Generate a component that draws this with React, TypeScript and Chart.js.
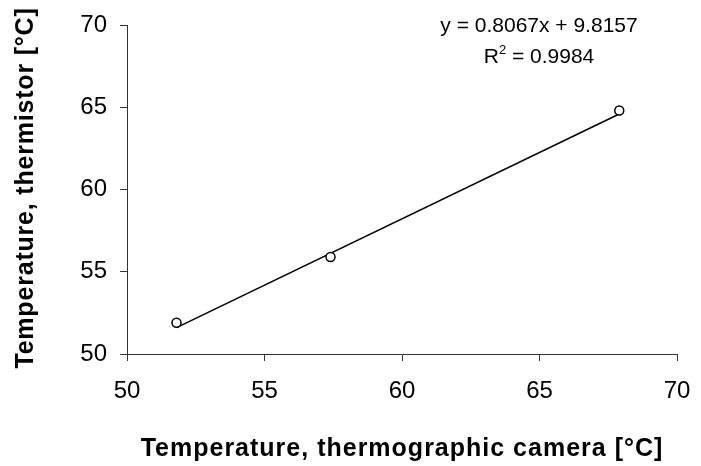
import { useEffect, useRef } from "react";
import { Chart, registerables } from "chart.js";

Chart.register(...registerables);

// Measured temperatures (°C)
const cameraTemps = [51.8, 57.4, 67.9];
const thermistorTemps = [51.9, 55.9, 64.8];

// Linear fit of thermistor vs. camera readings
const slope = 0.8067;
const intercept = 9.8157;
const rSquared = 0.9984;

const axisMin = 50;
const axisMax = 70;
const axisStep = 5;

const xTitle = "Temperature, thermographic camera [°C]";
const yTitle = "Temperature, thermistor [°C]";

const FONT = '"Liberation Sans", Arial, Helvetica, sans-serif';

const textPlugin = {
  id: "chartText",
  afterDraw(chart: any) {
    const ctx: any = chart.ctx;
    const area = chart.chartArea;
    ctx.save();
    ctx.fillStyle = "#000";

    // axis titles
    ctx.font = `bold 25px ${FONT}`;
    ctx.letterSpacing = "1px";
    ctx.textAlign = "center";
    ctx.textBaseline = "alphabetic";
    ctx.fillText(xTitle, (area.left + area.right) / 2, 456);

    ctx.save();
    ctx.translate(33, 188);
    ctx.rotate(-Math.PI / 2);
    ctx.letterSpacing = "0.8px";
    ctx.fillText(yTitle, 0, 0);
    ctx.restore();
    ctx.letterSpacing = "0px";

    // fit equation and R²
    const cx = 539;
    ctx.font = `21px ${FONT}`;
    ctx.textBaseline = "alphabetic";
    ctx.textAlign = "center";
    const eq = `y = ${slope.toFixed(4)}x + ${intercept.toFixed(4)}`;
    ctx.fillText(eq, cx, 32);

    const rest = ` = ${rSquared.toFixed(4)}`;
    ctx.font = `21px ${FONT}`;
    const wR = ctx.measureText("R").width;
    const wRest = ctx.measureText(rest).width;
    ctx.font = `13px ${FONT}`;
    const w2 = ctx.measureText("2").width;
    let x = cx - (wR + w2 + wRest) / 2;
    ctx.textAlign = "left";
    ctx.font = `21px ${FONT}`;
    ctx.fillText("R", x, 63);
    x += wR;
    ctx.font = `13px ${FONT}`;
    ctx.fillText("2", x, 54);
    x += w2;
    ctx.font = `21px ${FONT}`;
    ctx.fillText(rest, x, 63);

    ctx.restore();
  },
};

export default function App() {
  const canvasRef = useRef<HTMLCanvasElement | null>(null);

  useEffect(() => {
    if (!canvasRef.current) return;
    const xLo = Math.min(...cameraTemps);
    const xHi = Math.max(...cameraTemps);
    const trend = [
      { x: xLo, y: slope * xLo + intercept },
      { x: xHi, y: slope * xHi + intercept },
    ];
    const points = cameraTemps.map((x, i) => ({ x, y: thermistorTemps[i] }));

    const tickFont = { family: FONT, size: 24 };
    const axisColor = "#333";

    const chart = new Chart(canvasRef.current, {
      type: "scatter",
      data: {
        datasets: [
          {
            label: "Measurements",
            data: points,
            pointRadius: 4.5,
            pointBorderWidth: 1.5,
            pointBorderColor: "#000",
            pointBackgroundColor: "#fff",
            showLine: false,
          },
          {
            label: "Linear fit",
            data: trend,
            showLine: true,
            borderColor: "#000",
            borderWidth: 1.5,
            pointRadius: 0,
            fill: false,
          },
        ],
      },
      options: {
        responsive: false,
        animation: false,
        devicePixelRatio: 1,
        layout: { padding: { top: 25, right: 24, left: 0, bottom: 0 } },
        plugins: {
          legend: { display: false },
          tooltip: { enabled: false },
          title: { display: false },
        },
        scales: {
          x: {
            type: "linear",
            min: axisMin,
            max: axisMax,
            ticks: {
              stepSize: axisStep,
              color: "#000",
              font: tickFont,
              padding: 16,
              maxRotation: 0,
            },
            grid: {
              drawOnChartArea: false,
              drawTicks: true,
              tickLength: 7,
              color: axisColor,
              lineWidth: 1,
            },
            border: { display: true, color: axisColor, width: 1 },
            afterFit(scale: any) {
              scale.height = 112;
              scale.paddingLeft = 0;
              scale.paddingRight = 0;
            },
          },
          y: {
            type: "linear",
            min: axisMin,
            max: axisMax,
            ticks: {
              stepSize: axisStep,
              color: "#000",
              font: tickFont,
              padding: 13,
            },
            grid: {
              drawOnChartArea: false,
              drawTicks: true,
              tickLength: 7,
              color: axisColor,
              lineWidth: 1,
            },
            border: { display: true, color: axisColor, width: 1 },
            afterFit(scale: any) {
              scale.width = 127;
              scale.paddingTop = 0;
              scale.paddingBottom = 0;
            },
          },
        },
      },
      plugins: [textPlugin],
    } as any);

    return () => chart.destroy();
  }, []);

  return (
    <div
      style={{
        position: "fixed",
        left: 0,
        top: 0,
        width: 701,
        height: 466,
        background: "#fff",
      }}
    >
      <canvas ref={canvasRef} width={701} height={466} />
    </div>
  );
}
